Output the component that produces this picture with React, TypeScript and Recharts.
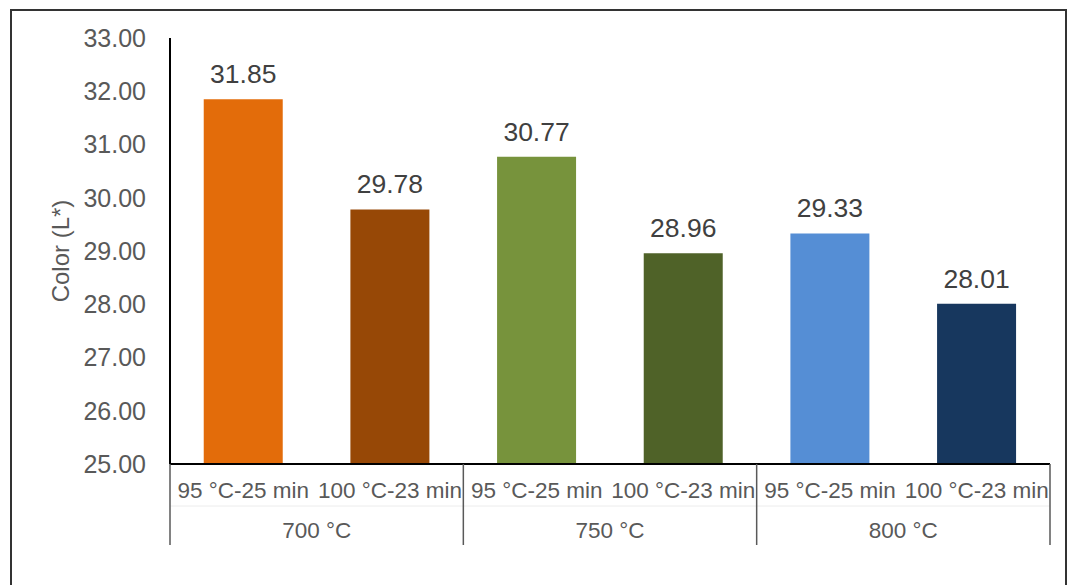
import React from 'react';
import { BarChart, Bar, XAxis, YAxis, Cell, LabelList } from 'recharts';

const treatments = ['95 °C-25 min', '100 °C-23 min', '95 °C-25 min', '100 °C-23 min', '95 °C-25 min', '100 °C-23 min'];
const temperatures = ['700 °C', '700 °C', '750 °C', '750 °C', '800 °C', '800 °C'];
const lightness = [31.85, 29.78, 30.77, 28.96, 29.33, 28.01];
const barColors = ['#E36C0A', '#974806', '#77933C', '#4F6228', '#558ED5', '#17375E'];
const yTicks = [25, 26, 27, 28, 29, 30, 31, 32, 33];

const data = treatments.map((t, i) => ({
  key: `${temperatures[i]} ${t}`,
  treatment: t,
  temp: temperatures[i],
  value: lightness[i],
}));

const FONT = '"Liberation Sans", Arial, sans-serif';

const TreatmentTick = (props: any) => {
  const { x, y, payload } = props;
  return (
    <text x={x} y={y + 26} textAnchor="middle" dominantBaseline="central" fontSize={22.5} fill="#595959" fontFamily={FONT}>
      {data[payload.index]?.treatment ?? ''}
    </text>
  );
};

const TempTick = (props: any) => {
  const { x, y, payload, width, visibleTicksCount, index } = props;
  const half = width / visibleTicksCount / 2;
  const top = y - 42;
  const bottom = y + 39;
  return (
    <g>
      <line x1={x - half} x2={x + half} y1={y} y2={y} stroke="#ececec" strokeWidth={1} />
      <line x1={x - half} x2={x - half} y1={top} y2={bottom} stroke="#595959" strokeWidth={1.5} />
      {index === visibleTicksCount - 1 && (
        <line x1={x + half} x2={x + half} y1={top} y2={bottom} stroke="#595959" strokeWidth={1.5} />
      )}
      <text x={x} y={y + 24} textAnchor="middle" dominantBaseline="central" fontSize={22.5} fill="#595959" fontFamily={FONT}>
        {payload.value}
      </text>
    </g>
  );
};

const AxisTitle = (props: any) => {
  const { viewBox } = props;
  const cy = viewBox.y + viewBox.height / 2;
  return (
    <text
      x={60}
      y={cy}
      transform={`rotate(-90, 60, ${cy})`}
      textAnchor="middle"
      dominantBaseline="central"
      fontSize={24}
      fill="#595959"
      fontFamily={FONT}
    >
      Color (L*)
    </text>
  );
};

export default function App() {
  return (
    <div style={{ position: 'absolute', left: 0, top: 0, width: 1068, height: 585, overflow: 'hidden', background: '#fff' }}>
      <div
        style={{
          position: 'absolute',
          left: 10,
          top: 9,
          width: 1053,
          height: 600,
          border: '2px solid #333',
        }}
      />
      <div style={{ position: 'absolute', left: 0, top: 0 }}>
        <BarChart
          width={1068}
          height={585}
          data={data}
          margin={{ top: 38, right: 18, left: 0, bottom: 39 }}
          barCategoryGap="23%"
        >
          <YAxis
            width={170}
            domain={[25, 33]}
            ticks={yTicks}
            allowDataOverflow
            tickFormatter={(v: number) => v.toFixed(2)}
            axisLine={{ stroke: '#000', strokeWidth: 2 }}
            tickLine={false}
            tickSize={0}
            tickMargin={24}
            tick={{ fontSize: 25, fill: '#595959', fontFamily: FONT }}
            label={{ content: AxisTitle }}
          />
          <XAxis
            dataKey="key"
            height={42}
            interval={0}
            axisLine={{ stroke: '#000', strokeWidth: 2 }}
            tickLine={false}
            tickSize={0}
            tickMargin={0}
            tick={<TreatmentTick />}
          />
          <XAxis
            xAxisId="group"
            dataKey="temp"
            allowDuplicatedCategory={false}
            height={40}
            interval={0}
            axisLine={false}
            tickLine={false}
            tickSize={0}
            tickMargin={0}
            tick={<TempTick />}
          />
          <Bar dataKey="value" isAnimationActive={false}>
            {data.map((d, i) => (
              <Cell key={d.key} fill={barColors[i]} />
            ))}
            <LabelList
              dataKey="value"
              position="top"
              offset={16}
              formatter={(v: any) => Number(v).toFixed(2)}
              style={{ fontSize: 26.5, fill: '#404040', fontFamily: FONT }}
            />
          </Bar>
        </BarChart>
      </div>
    </div>
  );
}
